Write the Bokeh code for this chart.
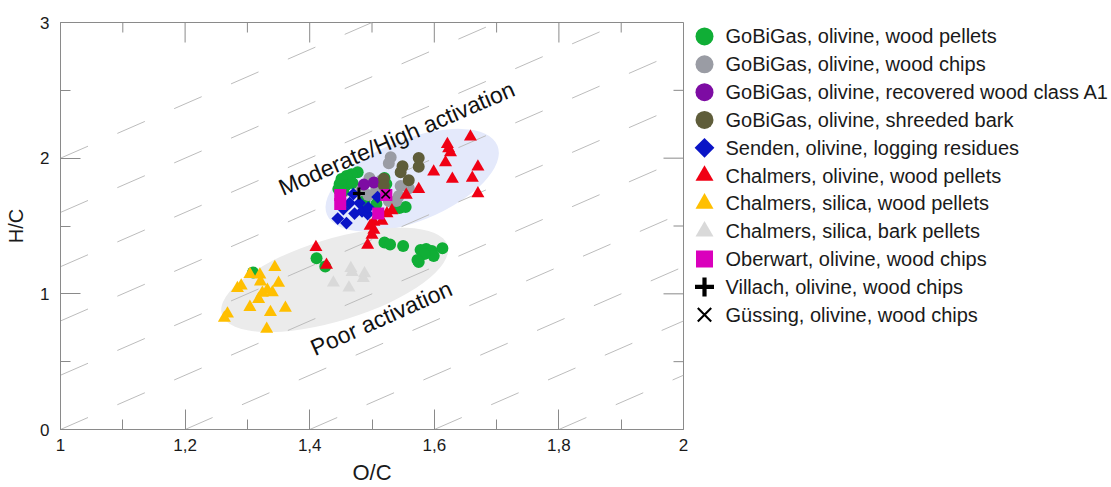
import math
from bokeh.plotting import figure
from bokeh.layouts import row
from bokeh.models import FixedTicker, Range1d
from bokeh.core.properties import value
from bokeh.embed import file_html
from bokeh.resources import INLINE

# ---------------- data ----------------
gobigas_pellets_oc = [1.477, 1.467, 1.459, 1.451, 1.448, 1.458, 1.469, 1.454, 1.446, 1.488, 1.507,
                      1.520, 1.523, 1.544, 1.554, 1.520, 1.529, 1.550, 1.578, 1.587, 1.596, 1.613,
                      1.599, 1.584, 1.573, 1.575, 1.411, 1.425, 1.309]
gobigas_pellets_hc = [1.897, 1.882, 1.868, 1.846, 1.809, 1.801, 1.816, 1.757, 1.772, 1.684, 1.662,
                      1.853, 1.809, 1.632, 1.640, 1.379, 1.364, 1.353, 1.324, 1.331, 1.316, 1.336,
                      1.279, 1.294, 1.250, 1.235, 1.262, 1.201, 1.157]

gobigas_chips_oc = [1.530, 1.527, 1.496, 1.515, 1.546, 1.559, 1.543, 1.527, 1.539, 1.494, 1.507, 1.483]
gobigas_chips_hc = [2.007, 1.963, 1.853, 1.838, 1.794, 1.779, 1.721, 1.684, 1.684, 1.728, 1.772, 1.765]

gobigas_recovered_oc = [1.487, 1.503]
gobigas_recovered_hc = [1.805, 1.820]

gobigas_bark_oc = [1.575, 1.575, 1.549, 1.546, 1.559, 1.519, 1.519]
gobigas_bark_hc = [2.002, 1.936, 1.941, 1.897, 1.838, 1.849, 1.801]

senden_oc = [1.445, 1.459, 1.464, 1.470, 1.472, 1.484, 1.493, 1.494, 1.509, 1.480, 1.454]
senden_hc = [1.555, 1.522, 1.669, 1.735, 1.592, 1.607, 1.588, 1.636, 1.713, 1.669, 1.625]

chalmers_ol_pellets_oc = [1.658, 1.621, 1.623, 1.626, 1.618, 1.599, 1.670, 1.629, 1.661, 1.670, 1.575,
                          1.555, 1.532, 1.524, 1.516, 1.503, 1.497, 1.503, 1.500, 1.493, 1.410, 1.427]
chalmers_ol_pellets_hc = [2.158, 2.103, 2.071, 2.042, 1.968, 1.899, 1.936, 1.846, 1.853, 1.740, 1.770,
                          1.728, 1.614, 1.593, 1.537, 1.529, 1.500, 1.471, 1.434, 1.360, 1.343, 1.213]

chalmers_si_pellets_oc = [1.344, 1.304, 1.320, 1.290, 1.284, 1.321, 1.350, 1.332, 1.340, 1.324, 1.318,
                          1.304, 1.337, 1.361, 1.268, 1.263, 1.331]
chalmers_si_pellets_hc = [1.196, 1.145, 1.140, 1.059, 1.042, 1.090, 1.079, 1.029, 1.010, 1.007, 0.961,
                          0.902, 0.865, 0.895, 0.853, 0.821, 0.740]

chalmers_si_bark_oc = [1.466, 1.468, 1.488, 1.486, 1.438, 1.463]
chalmers_si_bark_hc = [1.189, 1.160, 1.149, 1.115, 1.081, 1.044]

oberwart_oc = [1.449, 1.449, 1.523, 1.510]
oberwart_hc = [1.728, 1.662, 1.728, 1.592]

villach_oc = [1.479]
villach_hc = [1.740]

guessing_oc = [1.522]
guessing_hc = [1.735]

series_labels = [
    "GoBiGas, olivine, wood pellets",
    "GoBiGas, olivine, wood chips",
    "GoBiGas, olivine, recovered wood class A1",
    "GoBiGas, olivine, shreeded bark",
    "Senden, olivine, logging residues",
    "Chalmers, olivine, wood pellets",
    "Chalmers, silica, wood pellets",
    "Chalmers, silica, bark pellets",
    "Oberwart, olivine, wood chips",
    "Villach, olivine, wood chips",
    "Güssing, olivine, wood chips",
]

x_ticks = [1.0, 1.2, 1.4, 1.6, 1.8, 2.0]
x_tick_labels = ["1", "1,2", "1,4", "1,6", "1,8", "2"]
y_ticks = [0, 1, 2, 3]
y_tick_labels = ["0", "1", "2", "3"]

# background iso-lines  H/C = 2*O/C + c
isoline_slope = 2.0
isoline_intercepts = [0.0, -0.4, -0.8, -1.2, -1.6, -2.0, -2.4, -2.8, -3.2, -3.6]

# region ellipses (centre in data units)
ellipse_high_center = (1.5645, 1.838)
ellipse_poor_center = (1.4401, 1.103)

FONT = "Liberation Sans"
AX_COL = "#8a8a8a"
TXT_COL = "#1a1a1a"

# styles per series: (marker, size_plot, size_legend, fill, line, line_width, angle)
styles = [
    ("circle", 12, 18, "#10ae36", None, 0, 0),
    ("circle", 12, 18, "#9a9ca4", None, 0, 0),
    ("circle", 12, 18, "#7d0ca3", None, 0, 0),
    ("circle", 12, 18, "#5f5d3a", None, 0, 0),
    ("square", 9, 14, "#0a14c6", None, 0, math.pi / 4),
    ("triangle", 13, 18, "#f00014", None, 0, 0),
    ("triangle", 13, 18, "#ffbf00", None, 0, 0),
    ("triangle", 13, 18, "#d9d9d9", None, 0, 0),
    ("square", 12, 17, "#da00bc", None, 0, 0),
    ("cross", 12, 19, None, "black", 3, 0),
    ("x", 12, 19, None, "black", 1.5, 0),
]
series_data = [
    (gobigas_pellets_oc, gobigas_pellets_hc),
    (gobigas_chips_oc, gobigas_chips_hc),
    (gobigas_recovered_oc, gobigas_recovered_hc),
    (gobigas_bark_oc, gobigas_bark_hc),
    (senden_oc, senden_hc),
    (chalmers_ol_pellets_oc, chalmers_ol_pellets_hc),
    (chalmers_si_pellets_oc, chalmers_si_pellets_hc),
    (chalmers_si_bark_oc, chalmers_si_bark_hc),
    (oberwart_oc, oberwart_hc),
    (villach_oc, villach_hc),
    (guessing_oc, guessing_hc),
]

BORDER_TOP, BORDER_BOTTOM = 22, 57
FIG_H = 487
FRAME_H = FIG_H - BORDER_TOP - BORDER_BOTTOM

# ---------------- main chart ----------------
p = figure(width=690, height=FIG_H, output_backend="svg", toolbar_location=None,
           x_range=Range1d(1, 2), y_range=Range1d(0, 3),
           min_border_left=60, min_border_right=7, min_border_top=BORDER_TOP,
           min_border_bottom=BORDER_BOTTOM, x_axis_label="O/C", y_axis_label="H/C")
p.grid.visible = False
p.outline_line_color = AX_COL
p.background_fill_color = "white"
p.border_fill_color = "white"

p.ellipse(x=[ellipse_high_center[0]], y=[ellipse_high_center[1]], width=184, height=82,
          width_units="screen", height_units="screen", angle=math.radians(22),
          fill_color="#e4e9fb", line_color=None)
p.ellipse(x=[ellipse_poor_center[0]], y=[ellipse_poor_center[1]], width=236, height=82,
          width_units="screen", height_units="screen", angle=math.radians(17),
          fill_color="#ebebeb", line_color=None)

x0s, y0s, x1s, y1s = [], [], [], []
for c in isoline_intercepts:
    xa = max(1.0, (0.0 - c) / isoline_slope)
    xb = min(2.0, (3.0 - c) / isoline_slope)
    x0s.append(xa); y0s.append(isoline_slope * xa + c)
    x1s.append(xb); y1s.append(isoline_slope * xb + c)
p.segment(x0=x0s, y0=y0s, x1=x1s, y1=y1s, line_color="#bcbcbc", line_width=1, line_dash="30 32")

for (xs, ys), (mk, sz, _, fc, lc, lw, ang) in zip(series_data, styles):
    p.scatter(xs, ys, marker=mk, size=sz, angle=ang, fill_color=fc, line_color=lc,
              line_width=lw if lw else 1)

p.text(x=[1.5393], y=[2.147], text=["Moderate/High activation"], angle=math.radians(23.4),
       text_align="center", text_baseline="middle", text_font=value(FONT),
       text_font_size="23px", text_color="#111111")
p.text(x=[1.5149], y=[0.821], text=["Poor activation"], angle=math.radians(24),
       text_align="center", text_baseline="middle", text_font=value(FONT),
       text_font_size="23px", text_color="#111111")

x_minor = [(a + b) / 2 for a, b in zip(x_ticks[:-1], x_ticks[1:])]
y_minor = [(a + b) / 2 for a, b in zip(y_ticks[:-1], y_ticks[1:])]
p.xaxis.ticker = FixedTicker(ticks=x_ticks, minor_ticks=x_minor)
p.yaxis.ticker = FixedTicker(ticks=y_ticks, minor_ticks=y_minor)
p.xaxis.major_label_overrides = {t: l for t, l in zip(x_ticks, x_tick_labels)}
p.yaxis.major_label_overrides = {t: l for t, l in zip(y_ticks, y_tick_labels)}
for ax in p.xaxis + p.yaxis:
    ax.axis_line_color = AX_COL
    ax.major_tick_line_color = AX_COL
    ax.minor_tick_line_color = AX_COL
    ax.major_tick_in = 20
    ax.major_tick_out = 0
    ax.minor_tick_in = 10
    ax.minor_tick_out = 0
    ax.major_label_text_font = FONT
    ax.major_label_text_font_size = "17px"
    ax.major_label_text_color = TXT_COL
    ax.axis_label_text_font = FONT
    ax.axis_label_text_font_style = "normal"
    ax.axis_label_text_color = TXT_COL
p.xaxis.major_label_standoff = 9
p.yaxis.major_label_standoff = 11
p.xaxis.axis_label_standoff = 6
p.yaxis.axis_label_standoff = 10
p.xaxis.axis_label_text_font_size = "22px"
p.yaxis.axis_label_text_font_size = "20px"

# inward ticks on the top and right edges of the frame
p.ray(x=x_ticks, y=[3] * len(x_ticks), length=20, length_units="screen", angle=-math.pi / 2,
      line_color=AX_COL, line_width=1)
p.ray(x=x_minor, y=[3] * len(x_minor), length=10, length_units="screen", angle=-math.pi / 2,
      line_color=AX_COL, line_width=1)
p.ray(x=[2] * len(y_ticks), y=y_ticks, length=20, length_units="screen", angle=math.pi,
      line_color=AX_COL, line_width=1)
p.ray(x=[2] * len(y_minor), y=y_minor, length=10, length_units="screen", angle=math.pi,
      line_color=AX_COL, line_width=1)

# ---------------- legend panel (same frame height as the chart) ----------------
ROW_PITCH = 27.9          # px between legend rows
FIRST_ROW_OFFSET = 14.0   # px from frame top to first row centre
row_index = list(range(len(series_labels)))
y_top = -FIRST_ROW_OFFSET / ROW_PITCH
y_bottom = y_top + FRAME_H / ROW_PITCH
lg = figure(width=421, height=FIG_H, output_backend="svg", toolbar_location=None,
            x_range=Range1d(690, 1111), y_range=Range1d(y_bottom, y_top),
            x_axis_location=None, y_axis_location=None,
            min_border_left=0, min_border_right=0, min_border_top=BORDER_TOP,
            min_border_bottom=BORDER_BOTTOM)
lg.grid.visible = False
lg.outline_line_color = None
lg.background_fill_color = "white"
lg.border_fill_color = "white"

LEG_MARK_X = 704
LEG_TEXT_X = 725
for i, (mk, _, lsz, fc, lc, lw, ang) in zip(row_index, styles):
    lg.scatter([LEG_MARK_X], [i], marker=mk, size=lsz, angle=ang, fill_color=fc,
               line_color=lc, line_width=(lw * 1.4) if lw else 1)
lg.text(x=[LEG_TEXT_X] * len(series_labels), y=row_index, text=series_labels,
        text_align="left", text_baseline="middle", text_font=value(FONT),
        text_font_size="20px", text_color=TXT_COL)

layout = row(p, lg, spacing=0)
open("out.html", "w").write(file_html(layout, INLINE))
